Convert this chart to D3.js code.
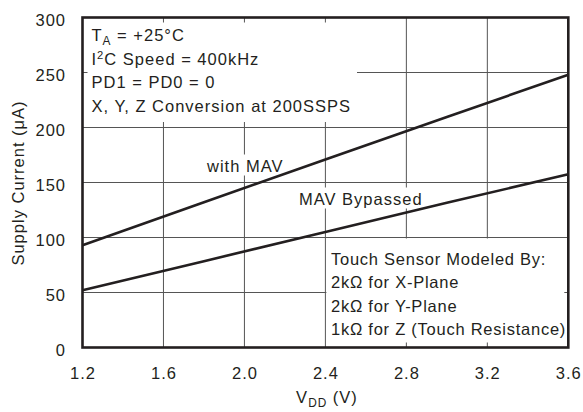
<!DOCTYPE html>
<html><head><meta charset="utf-8">
<script src="https://cdn.jsdelivr.net/npm/d3@7"></script>
<style>
body{margin:0;background:#fff}
text{font-family:"Liberation Sans",Arial,Helvetica,sans-serif;fill:#231f20;letter-spacing:1px}
</style>
</head><body>
<svg id="c" width="583" height="412"></svg>
<script>
// ---- data ----
const vdd = [1.2, 1.8, 2.4, 3.0, 3.6];
const withMAV = [93, 132, 171, 209.5, 248];
const mavBypassed = [52, 78.5, 105, 131.5, 157.5];
const xTicks = [1.2, 1.6, 2.0, 2.4, 2.8, 3.2, 3.6];
const xTickLabels = ["1.2", "1.6", "2.0", "2.4", "2.8", "3.2", "3.6"];
const yTicks = [0, 50, 100, 150, 200, 250, 300];
const seriesNames = ["with MAV", "MAV Bypassed"];

// ---- layout ----
const svg = d3.select("#c");
const L = 82.5, R = 568.3, T = 17.5, B = 347.5;
const x = d3.scaleLinear().domain([1.2, 3.6]).range([L, R]);
const y = d3.scaleLinear().domain([0, 300]).range([B, T]);
const ink = "#231f20";
const FS = 16.5;

// grid
const grid = svg.append("g");
grid.selectAll(".vg").data(xTicks.slice(1, -1)).join("line")
  .attr("x1", d => x(d)).attr("x2", d => x(d)).attr("y1", T).attr("y2", B)
  .attr("stroke", "#555").attr("stroke-width", 1);
grid.selectAll(".hg").data(yTicks.slice(1, -1)).join("line")
  .attr("y1", d => y(d)).attr("y2", d => y(d)).attr("x1", L).attr("x2", R)
  .attr("stroke", "#555").attr("stroke-width", 1);

const masks = svg.append("g");
const texts = svg.append("g");

function addLines(g, lines, x0, y0, dy, ls) {
  lines.forEach((ln, i) => {
    const t = g.append("text").attr("x", x0).attr("y", y0 + i * dy).attr("font-size", FS);
    if (ls !== undefined) t.style("letter-spacing", ls + "px");
    ln.forEach(part => {
      const s = t.append("tspan").text(part.t);
      if (part.sub) s.attr("font-size", FS * 0.72).attr("dy", 4);
      if (part.sup) s.attr("font-size", FS * 0.68).attr("dy", -6);
      if (part.back) s.attr("dy", part.back);
    });
  });
}

// top-left conditions box
const tl = texts.append("g");
addLines(tl, [
  [{t: "T"}, {t: "A", sub: true}, {t: " = +25°C", back: -4}],
  [{t: "I"}, {t: "2", sup: true}, {t: "C Speed = 400kHz", back: 6}],
  [{t: "PD1 = PD0 = 0"}],
  [{t: "X, Y, Z Conversion at 200SSPS"}]
], 91.5, 41, 23.5);

// lower-right box
const br = texts.append("g");
addLines(br, [
  [{t: "Touch Sensor Modeled By:"}],
  [{t: "2kΩ for X-Plane"}],
  [{t: "2kΩ for Y-Plane"}],
  [{t: "1kΩ for Z (Touch Resistance)"}]
], 331, 264.5, 23.5, 0.75);

// series labels
const lab1 = texts.append("text").attr("x", 207).attr("y", 171.5).attr("font-size", FS).text(seriesNames[0]);
const lab2 = texts.append("text").attr("x", 299).attr("y", 204.5).attr("font-size", FS).text(seriesNames[1]);

// white masks under text (break the grid)
masks.append("rect").attr("x", L + 5).attr("y", T + 5)
  .attr("width", 357 - L - 5).attr("height", 122 - T - 5).attr("fill", "#fff");
masks.append("rect").attr("x", x(2.4) + 1).attr("y", y(100) + 1)
  .attr("width", R - 4 - x(2.4) - 1).attr("height", B - 5 - y(100) - 1).attr("fill", "#fff");
[lab1, lab2].forEach(l => {
  const b = l.node().getBBox();
  masks.append("rect").attr("x", b.x - 2).attr("y", b.y - 2)
    .attr("width", b.width + 2).attr("height", b.height + 3).attr("fill", "#fff");
});

// series lines
const line = d3.line().x((d, i) => x(vdd[i])).y(d => y(d));
[withMAV, mavBypassed].forEach(s => {
  svg.append("path").attr("d", line(s)).attr("fill", "none")
    .attr("stroke", ink).attr("stroke-width", 2.6);
});

// frame
svg.append("rect").attr("x", L).attr("y", T).attr("width", R - L).attr("height", B - T)
  .attr("fill", "none").attr("stroke", ink).attr("stroke-width", 2.6);

// axes labels
svg.append("g").selectAll("text").data(yTicks).join("text")
  .attr("x", 66).attr("y", d => y(d) + 8.5).attr("text-anchor", "end")
  .attr("font-size", FS).text(d => d);
svg.append("g").selectAll("text").data(xTicks).join("text")
  .attr("x", d => x(d) + 0.5).attr("y", 378.5).attr("text-anchor", "middle")
  .attr("font-size", FS).text((d, i) => xTickLabels[i]);

// x title
const xt = svg.append("text").attr("x", 327).attr("y", 403).attr("text-anchor", "middle").attr("font-size", FS);
xt.append("tspan").text("V");
xt.append("tspan").text("DD").attr("font-size", FS * 0.72).attr("dy", 4);
xt.append("tspan").text(" (V)").attr("dy", -4);

// y title
svg.append("text").attr("transform", `translate(24,${(T + B) / 2 + 0.5}) rotate(-90)`)
  .attr("text-anchor", "middle").attr("font-size", FS).text("Supply Current (μA)");
</script>
</body></html>
